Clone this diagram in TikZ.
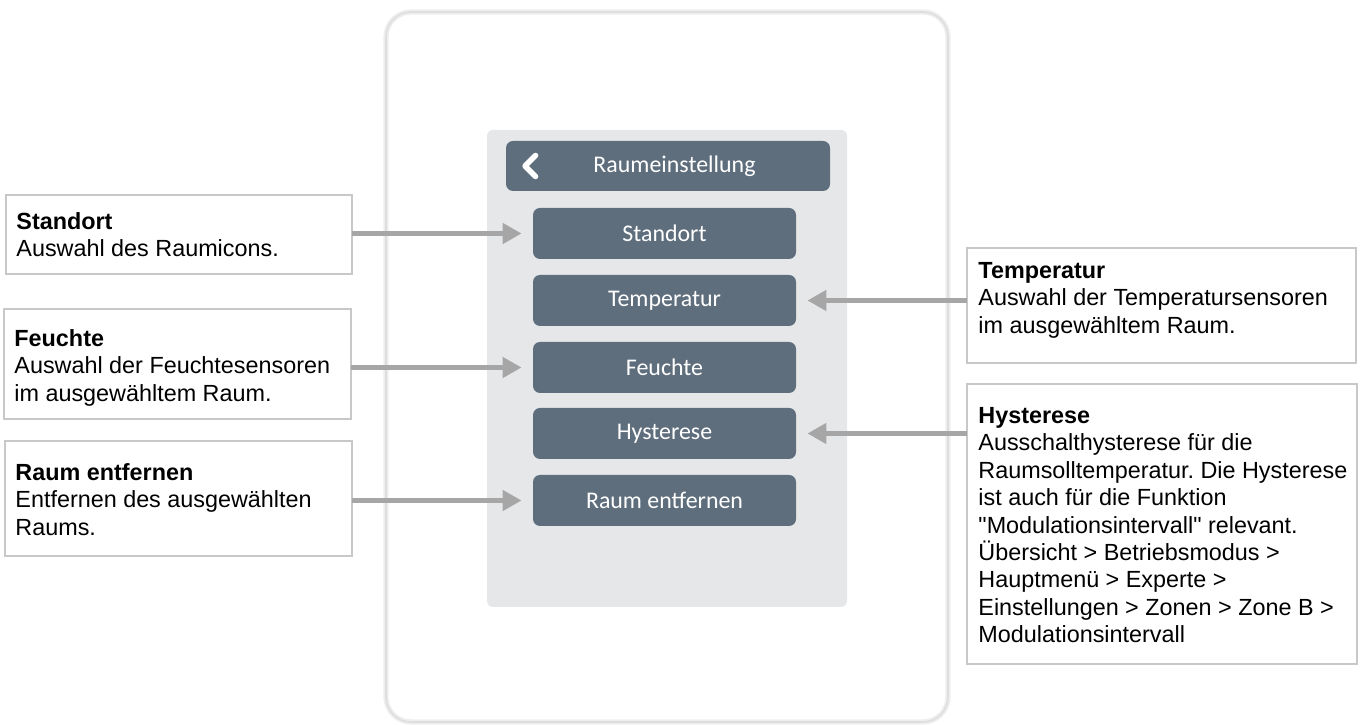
\documentclass[tikz,border=0pt]{standalone}
\usepackage{fontspec}
\usetikzlibrary{positioning,arrows.meta}
\newfontfamily\boxfont{Liberation Sans}
\newfontfamily\btnfont{Carlito}
\definecolor{btngray}{RGB}{95,110,125}
\definecolor{panelgray}{RGB}{230,231,233}
\definecolor{framegray}{RGB}{218,218,218}
\definecolor{arrgray}{RGB}{166,166,166}
\definecolor{boxgray}{RGB}{200,200,200}
\frenchspacing

\begin{document}
\begin{tikzpicture}[line width=0.5pt,
  btn/.style={fill=btngray, text=white, rounded corners=0.14cm, minimum width=5.26cm, minimum height=1.02cm,
    inner sep=0pt, font=\btnfont\fontsize{13.6}{15}\selectfont},
  cbox/.style={draw=boxgray, line width=1.1pt, fill=white, inner sep=0pt, outer sep=0pt},
  txt/.style={inner sep=0pt, align=left, font=\boxfont\fontsize{13.3}{15.6}\selectfont},
  arr/.style={draw=arrgray, line width=0.1cm, -{Triangle[length=0.38cm,width=0.4cm]}, shorten >=0.22cm}]
  \useasboundingbox (0,0) rectangle (27.26,14.5);
  % device frame and screen
  \draw[framegray!45, line width=3pt, rounded corners=0.5cm] (7.72,0.06) rectangle (18.96,14.26);
  \draw[framegray!90, line width=0.9pt, rounded corners=0.5cm] (7.72,0.06) rectangle (18.96,14.26);
  \fill[panelgray, rounded corners=0.12cm] (9.74,2.36) rectangle (16.94,11.9);
  \node[btn, minimum width=6.48cm, minimum height=1.0cm] (hdr) at (13.36,11.18) {\hspace{0.26cm}Raumeinstellung};
  \draw[white, line width=0.11cm, line cap=round, line join=round]
    ([xshift=0.6cm, yshift=0.21cm]hdr.west) -- ++(-0.21,-0.21) -- ++(0.21,-0.21);
  \foreach \n/\t/\y in {bstand/Standort/9.83, btemp/Temperatur/8.49, bfeucht/Feuchte/7.15,
      bhyst/Hysterese/5.83, braum/Raum entfernen/4.49}{
    \node[btn] (\n) at (13.29,\y) {\t};
  }

  % left notes
  \node[cbox, minimum width=6.92cm, minimum height=1.58cm] (sbox) at (3.58,9.81) {};
  \node[txt, below right=0.34cm and 0.2cm of sbox.north west] (stxt) {\textbf{Standort}\\Auswahl des Raumicons.};
  \node[cbox, minimum width=6.94cm, minimum height=2.2cm] (fbox) at (3.55,7.22) {};
  \node[txt, below right=0.4cm and 0.2cm of fbox.north west] (ftxt) {\textbf{Feuchte}\\Auswahl der Feuchtesensoren\\im ausgewähltem Raum.};
  \node[cbox, minimum width=6.94cm, minimum height=2.3cm] (rbox) at (3.57,4.53) {};
  \node[txt, below right=0.44cm and 0.2cm of rbox.north west] (rtxt) {\textbf{Raum entfernen}\\Entfernen des ausgewählten\\Raums.};

  % right notes
  \node[cbox, minimum width=7.78cm, minimum height=2.3cm] (tbox) at (23.23,8.39) {};
  \node[txt, below right=0.28cm and 0.22cm of tbox.north west] (ttxt) {\textbf{Temperatur}\\Auswahl der Temperatursensoren\\im ausgewähltem Raum.};
  \node[cbox, minimum width=7.8cm, minimum height=5.6cm] (hbox) at (23.24,4.02) {};
  \node[txt, below right=0.46cm and 0.22cm of hbox.north west] (htxt) {\textbf{Hysterese}\\Ausschalthysterese für die\\Raumsolltemperatur. Die Hysterese\\ist auch für die Funktion\\\textquotedbl Modulationsintervall\textquotedbl{} relevant.\\Übersicht > Betriebsmodus >\\Hauptmenü > Experte >\\Einstellungen > Zonen > Zone B >\\Modulationsintervall};

  % pointers
  \draw[arr] (sbox.east |- bstand.west) -- (bstand.west);
  \draw[arr] (fbox.east |- bfeucht.west) -- (bfeucht.west);
  \draw[arr] (rbox.east |- braum.west) -- (braum.west);
  \draw[arr] (tbox.west |- btemp.east) -- (btemp.east);
  \draw[arr] (hbox.west |- bhyst.east) -- (bhyst.east);
\end{tikzpicture}
\end{document}
